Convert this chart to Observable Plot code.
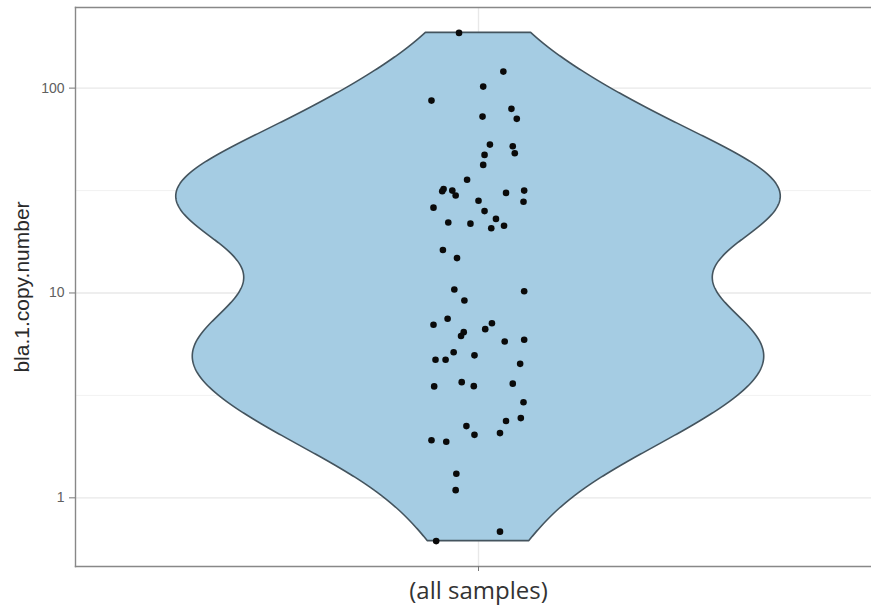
<!DOCTYPE html>
<html>
<head>
<meta charset="utf-8">
<script src="https://cdn.jsdelivr.net/npm/d3@7"></script>
<script src="https://cdn.jsdelivr.net/npm/@observablehq/plot@0.6"></script>
<style>
  html, body { margin: 0; padding: 0; background: #ffffff; }
</style>
</head>
<body>
<div id="chart"></div>
<script>
// ---- data ----
const categories = ["(all samples)"];
const yTitle = "bla.1.copy.number";

// copy numbers (log axis)
const copyNumber = [
  186, 120.4, 101.7, 86.9, 79.2, 72.6, 70.8, 53.0, 52.0, 47.2,
  48.1, 42.2, 35.7, 32.2, 31.4, 31.6, 29.9, 30.8, 31.6, 27.9,
  26.1, 28.2, 25.1, 23.0, 22.1, 21.8, 20.7, 21.3, 16.2, 14.8,
  10.4, 10.2, 9.19, 7.48, 7.00, 7.12, 6.66, 6.44, 6.17, 5.80,
  5.91, 5.14, 4.72, 4.72, 4.96, 4.51, 3.50, 3.67, 3.51, 3.61,
  2.93, 2.45, 2.37, 2.24, 2.03, 2.07, 1.91, 1.88, 1.31, 1.09,
  0.684, 0.615
];
// horizontal jitter of each point (in category units)
const jitter = [
  -0.029, 0.037, 0.007, -0.070, 0.049, 0.006, 0.057, 0.017, 0.051, 0.009,
  0.054, 0.007, -0.017, -0.052, -0.054, -0.039, -0.034, 0.041, 0.068, 0.067,
  -0.067, 0.000, 0.009, 0.026, -0.045, -0.012, 0.019, 0.038, -0.053, -0.032,
  -0.036, 0.068, -0.021, -0.046, -0.067, 0.020, 0.010, -0.022, -0.026, 0.039,
  0.068, -0.037, -0.064, -0.049, -0.006, 0.062, -0.066, -0.025, -0.007, 0.051,
  0.067, 0.063, 0.041, -0.018, -0.006, 0.032, -0.070, -0.048, -0.033, -0.034,
  0.032, -0.063
];
const majorY = [1, 10, 100];
const majorYLabels = ["1", "10", "100"];
const minorY = [Math.sqrt(10), Math.sqrt(1000)];
const bandwidthAdjust = 1;

// ---- derived tables ----
const points = copyNumber.map((v, i) => ({x: 1 + jitter[i], y: v}));

// violin: gaussian KDE on log10 values, bw.nrd0 * adjust, trimmed to data range, width 0.9
const logs = copyNumber.map(Math.log10);
const sorted = logs.slice().sort(d3.ascending);
const n = logs.length;
const sd = d3.deviation(logs);
const iqr = d3.quantile(sorted, 0.75) - d3.quantile(sorted, 0.25);
const bw = bandwidthAdjust * 0.9 * Math.min(sd, iqr / 1.34) * Math.pow(n, -0.2);
const lo = sorted[0], hi = sorted[n - 1];
const grid = d3.range(512).map(i => lo + (hi - lo) * i / 511);
const dens = grid.map(t => d3.mean(logs, l => Math.exp(-0.5 * ((t - l) / bw) ** 2)));
const dmax = d3.max(dens);
const violin = grid.map((t, i) => ({
  y: Math.pow(10, t),
  x1: 1 - 0.45 * dens[i] / dmax,
  x2: 1 + 0.45 * dens[i] / dmax
}));
const span = hi - lo;
const yDomain = [Math.pow(10, lo - 0.05 * span), Math.pow(10, hi + 0.05 * span)];

const yLabel = d => {
  const k = majorY.findIndex(v => Math.abs(v - d) < 1e-6 * v);
  return k >= 0 ? majorYLabels[k] : String(d);
};

const chart = Plot.plot({
  width: 871,
  height: 610,
  marginLeft: 75,
  marginRight: 0,
  marginTop: 7,
  marginBottom: 44,
  style: {background: "#ffffff", fontFamily: "'Liberation Sans', Arial, sans-serif"},
  x: {type: "linear", domain: [0.4, 0.4 + 796 / 671.67]},
  y: {type: "log", domain: yDomain},
  marks: [
    Plot.ruleY(minorY, {stroke: "#f1f1f1", strokeWidth: 0.9}),
    Plot.ruleY(majorY, {stroke: "#e8e8e8", strokeWidth: 1.4}),
    Plot.ruleX([1], {stroke: "#e8e8e8", strokeWidth: 1.4}),
    Plot.areaX(violin, {y: "y", x1: "x1", x2: "x2", fill: "#a5cce3", stroke: "#44545e", strokeWidth: 1.6, curve: "linear"}),
    Plot.dot(points, {x: "x", y: "y", r: 3.3, fill: "#0a0a0a", stroke: "none"}),
    Plot.frame({anchor: "left", stroke: "#888888", strokeWidth: 1.4}),
    Plot.frame({anchor: "top", stroke: "#888888", strokeWidth: 1.4}),
    Plot.frame({anchor: "bottom", stroke: "#888888", strokeWidth: 1.4}),
    Plot.axisY({ticks: majorY, tickFormat: yLabel, tickSize: 6, tickPadding: 5,
      fontSize: 14, stroke: "#777777", fill: "#606060", label: null}),
    Plot.axisX({ticks: [1], tickFormat: () => categories[0], tickSize: 5, tickPadding: 10,
      fontSize: 24, fontFamily: "'Open Sans', sans-serif", stroke: "#777777", fill: "#333333", label: null}),
    Plot.text([yTitle], {frameAnchor: "left", textAnchor: "middle", rotate: -90, dx: -53, fontSize: 21, fill: "#2a2a2a"})
  ]
});
document.getElementById("chart").appendChild(chart);
</script>
</body>
</html>
